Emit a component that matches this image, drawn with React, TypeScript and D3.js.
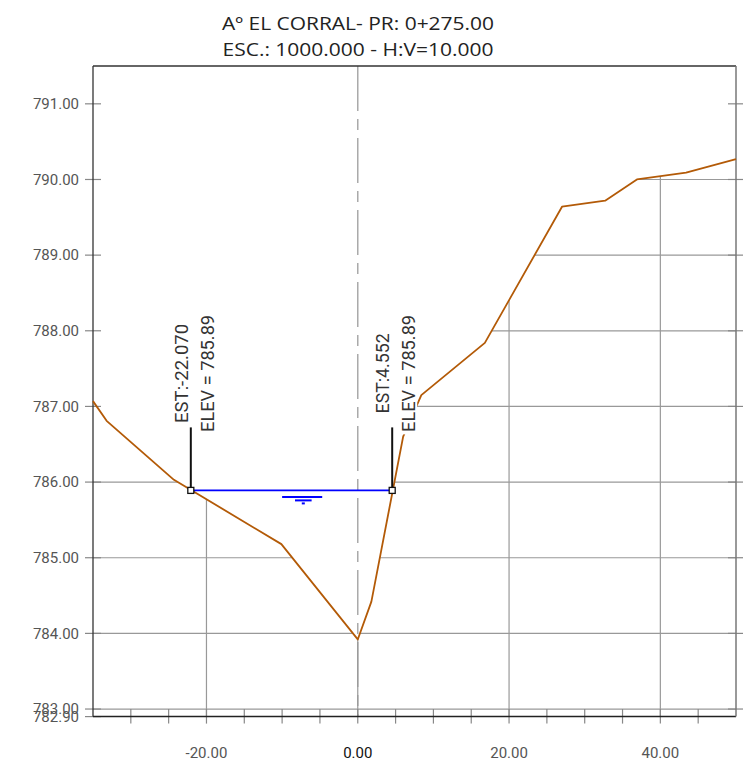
import * as d3 from 'd3';

// Perfil transversal — estación (m) / cota (m)
const groundSta = [-35, -33.2, -24.3, -10.1, 0, 1.8, 6.0, 8.4, 16.8, 27.0, 32.7, 36.9, 43.4, 50];
const groundElev = [787.07, 786.81, 786.03, 785.18, 783.92, 784.42, 786.6, 787.15, 787.84, 789.64, 789.72, 790.0, 790.09, 790.27];

const waterSta = [-22.07, 4.552];
const waterElev = 785.89;
const waterLabels = ['EST:-22.070', 'EST:4.552'];
const elevLabel = 'ELEV = 785.89';

const xTicksMajor = [-20, 0, 20, 40];
const xTicksMinor = [-30, -25, -20, -15, -10, -5, 0, 5, 10, 15, 20, 25, 30, 35, 40, 45];
const yTicks = [783, 784, 785, 786, 787, 788, 789, 790, 791];
const yBottomLabel = 782.9;

const title1 = 'Aº EL CORRAL- PR: 0+275.00';
const title2 = 'ESC.: 1000.000 - H:V=10.000';

const W = 743;
const H = 778;
const M = { top: 66, right: 7, bottom: 61.4, left: 93 };

export default function App() {
  const x = d3.scaleLinear().domain([-35, 50]).range([M.left, W - M.right]);
  const y = d3.scaleLinear().domain([782.9, 791.5]).range([H - M.bottom, M.top]);
  const x0 = x.range()[0], x1 = x.range()[1];
  const yb = y.range()[0], yt = y.range()[1];

  const pts = groundSta.map((s, i) => [s, groundElev[i]] as [number, number]);
  const line = d3.line<[number, number]>().x(d => x(d[0])).y(d => y(d[1]));
  const area = d3.area<[number, number]>().x(d => x(d[0])).y0(yb).y1(d => y(d[1]));

  const lbl = { fontFamily: 'Roboto, sans-serif', fontSize: 15, fill: '#555' };
  const ann = { fontFamily: 'Roboto, sans-serif', fontSize: 19, fill: '#333' };
  const annY = y(waterElev) - 117;

  return (
    <svg width={W} height={H} style={{ position: 'absolute', left: 0, top: 0, background: '#fff' }}>
      <defs>
        <clipPath id="under">
          <path d={area(pts) ?? ''} />
        </clipPath>
      </defs>

      {/* título */}
      <text x={358} y={30} textAnchor="middle" fontFamily="'Open Sans', sans-serif" fontSize={18} fill="#222"
        textLength={272} lengthAdjust="spacingAndGlyphs">{title1}</text>
      <text x={358} y={56} textAnchor="middle" fontFamily="'Open Sans', sans-serif" fontSize={18} fill="#222"
        textLength={271} lengthAdjust="spacingAndGlyphs">{title2}</text>

      {/* eje central */}
      <line x1={x(0)} x2={x(0)} y1={yt} y2={yb} stroke="#aaa" strokeWidth={1.5} strokeDasharray="45 8 11 8" />

      {/* grilla bajo terreno */}
      <g clipPath="url(#under)" stroke="#999" strokeWidth={1.2}>
        {xTicksMajor.map(t => <line key={'v' + t} x1={x(t)} x2={x(t)} y1={yt} y2={yb} />)}
        {yTicks.map(t => <line key={'h' + t} x1={x0} x2={x1} y1={y(t)} y2={y(t)} />)}
      </g>

      {/* ticks */}
      <g stroke="#888" strokeWidth={1.2}>
        {yTicks.map(t => <line key={'l' + t} x1={x0 - 8} x2={x0 + 8} y1={y(t)} y2={y(t)} />)}
        {yTicks.map(t => <line key={'r' + t} x1={x1 - 8} x2={x1 + 8} y1={y(t)} y2={y(t)} />)}
        <line x1={x0 - 8} x2={x0 + 8} y1={y(yBottomLabel)} y2={y(yBottomLabel)} />
        {xTicksMinor.map(t => <line key={'b' + t} x1={x(t)} x2={x(t)} y1={y(783)} y2={yb + 7} />)}
      </g>

      {/* marco */}
      <line x1={x0} x2={x0} y1={yt} y2={yb} stroke="#333" strokeWidth={1.3} />
      <line x1={x0} x2={x1} y1={yt} y2={yt} stroke="#333" strokeWidth={1.3} />
      <line x1={x0} x2={x1} y1={yb} y2={yb} stroke="#222" strokeWidth={1.5} />
      <line x1={x1} x2={x1} y1={yt} y2={yb} stroke="#777" strokeWidth={1.5} />

      {/* etiquetas eje Y */}
      {yTicks.map(t => (
        <text key={'yl' + t} x={x0 - 14} y={y(t)} dy="0.35em" textAnchor="end" {...lbl}>{t.toFixed(2)}</text>
      ))}
      <text x={x0 - 14} y={y(yBottomLabel)} dy="0.35em" textAnchor="end" {...lbl}>{yBottomLabel.toFixed(2)}</text>

      {/* etiquetas eje X */}
      {xTicksMajor.map(t => (
        <text key={'xl' + t} x={x(t)} y={yb + 41} textAnchor="middle" {...lbl} fill={t === 0 ? '#111' : '#555'}>
          {t.toFixed(2)}
        </text>
      ))}

      {/* terreno */}
      <path d={line(pts) ?? ''} fill="none" stroke="#b35a07" strokeWidth={1.8} strokeLinejoin="round" />

      {/* pelo de agua */}
      <line x1={x(waterSta[0])} x2={x(waterSta[1])} y1={y(waterElev)} y2={y(waterElev)} stroke="#0000ff" strokeWidth={1.8} />
      <g stroke="#0000ff" strokeWidth={2}>
        <line x1={x(-10)} x2={x(-4.7)} y1={y(waterElev) + 6.5} y2={y(waterElev) + 6.5} />
        <line x1={x(-8.3)} x2={x(-6.1)} y1={y(waterElev) + 10} y2={y(waterElev) + 10} />
        <line x1={x(-7.4)} x2={x(-7.0)} y1={y(waterElev) + 13} y2={y(waterElev) + 13} />
      </g>

      {/* anotaciones */}
      {waterSta.map((s, i) => {
        const px = x(s);
        const py = y(waterElev);
        return (
          <g key={'w' + i}>
            <line x1={px} x2={px} y1={py} y2={py - 63} stroke="#111" strokeWidth={2} />
            <rect x={px - 3} y={py - 3} width={6} height={6} fill="#fff" stroke="#111" strokeWidth={1.3} />
            <rect x={px + 8} y={annY - 60} width={17} height={121} fill="#fff" />
            <text transform={`translate(${px - 3},${annY}) rotate(-90)`} textAnchor="middle" {...ann}
              textLength={i === 0 ? 99 : 80} lengthAdjust="spacingAndGlyphs">{waterLabels[i]}</text>
            <text transform={`translate(${px + 23},${annY}) rotate(-90)`} textAnchor="middle" {...ann}
              textLength={117} lengthAdjust="spacingAndGlyphs">{elevLabel}</text>
          </g>
        );
      })}
    </svg>
  );
}
